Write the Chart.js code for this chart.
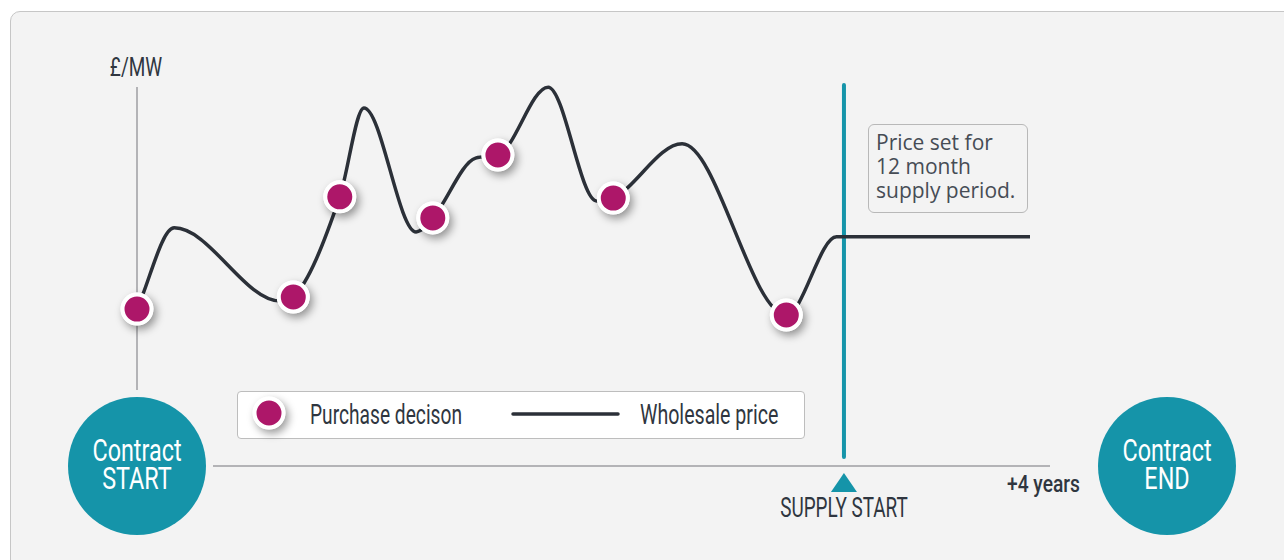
<!DOCTYPE html>
<html>
<head>
<meta charset="utf-8">
<script src="https://cdn.jsdelivr.net/npm/chart.js@4"></script>
<style>
  html, body { margin: 0; padding: 0; background: #fff; width: 1284px; height: 560px; overflow: hidden; }
  .panel {
    position: absolute; left: 10px; top: 11px; width: 1300px; height: 600px;
    background: #f3f3f3; border: 1.5px solid #c6c6c6; border-radius: 10px;
  }
  #chart { position: absolute; left: 0; top: 0; z-index: 2; }
  .cond { font-family: Roboto, sans-serif; color: #2f3640; position: absolute; white-space: nowrap; }
  .mid { width: 300px; text-align: center; transform-origin: 150px 0; }
  .circle {
    position: absolute; width: 138px; height: 138px; border-radius: 50%;
    background: #1594a9;
  }
  .circle span {
    position: absolute; left: -81px; top: 39px; width: 300px; text-align: center;
    font-family: Roboto, sans-serif; color: #fff; font-size: 32px; line-height: 28px;
    transform: scaleX(0.73); transform-origin: 150px 0;
  }
  .legend {
    position: absolute; left: 237px; top: 391px; width: 568px; height: 48px;
    background: #fff; border: 1px solid #bdbdbd; border-radius: 4px; box-sizing: border-box;
  }
  .note {
    position: absolute; left: 868px; top: 124px; width: 160px; height: 89px; box-sizing: border-box;
    border: 1.5px solid #b8b8b8; border-radius: 6px; padding: 5px 0 0 7px;
    font-family: 'Open Sans', sans-serif; font-size: 21px; line-height: 24px; color: #464c55;
  }
</style>
</head>
<body>
<div class="panel"></div>
<canvas id="chart" width="1284" height="560"></canvas>

<div class="cond mid" style="left:-14px; top:54px; font-size:26px; line-height:26px; transform:scaleX(0.73);">£/MW</div>
<div class="cond mid" style="left:694px; top:495px; font-size:27px; line-height:27px; transform:scaleX(0.70);">SUPPLY START</div>
<div class="cond" style="left:1007px; top:472px; font-size:24px; line-height:24px; font-weight:500; transform:scaleX(0.8); transform-origin:0 0;">+4 years</div>
<div class="circle" style="left:68px; top:397px;"><span>Contract<br>START</span></div>
<div class="circle" style="left:1098px; top:397px;"><span>Contract<br>END</span></div>

<div class="legend">
  <div class="cond" style="left:72px; top:9px; font-size:28px; line-height:28px; transform:scaleX(0.685); transform-origin:0 0;">Purchase decison</div>
  <div class="cond" style="left:402px; top:9px; font-size:28px; line-height:28px; transform:scaleX(0.70); transform-origin:0 0;">Wholesale price</div>
</div>
<div class="note">Price set for<br>12 month<br>supply period.</div>

<script>
// months from contract start (0 .. 48), price index (0 .. 100)
const priceMonths = [0, 2.0, 7.7, 8.4, 10.9, 12.2, 15.0, 15.9, 18.2, 19.4, 22.1, 24.7, 25.6, 29.3, 34.9, 37.6, 48];
const priceValues = [26.1, 52.3, 28.7, 30.0, 62.3, 91.0, 51.0, 55.5, 74.8, 75.8, 97.7, 61.0, 61.9, 79.4, 24.2, 49.4, 49.4];

const purchaseMonths = [0, 8.4, 10.9, 15.9, 19.4, 25.6, 34.9];
const purchaseValues = [26.1, 30.0, 62.3, 55.5, 75.8, 61.9, 24.2];

const contractMonths = 48;
const supplyStartMonth = 38;

const TEAL = '#1594a9';
const LINE = '#2b3038';
const DOT = '#ad1769';

// legend swatches drawn on the same canvas
const legendDot = { x: 269, y: 413 };
const legendLine = { x1: 513, x2: 618, y: 414 };

function dotShadow(ctx) {
    ctx.shadowColor = 'rgba(0,0,0,0.4)';
    ctx.shadowBlur = 8;
    ctx.shadowOffsetX = 3;
    ctx.shadowOffsetY = 4;
}

function shadowDisc(ctx, x, y, r) {
    ctx.save();
    dotShadow(ctx);
    ctx.fillStyle = '#fff';
    ctx.beginPath();
    ctx.arc(x, y, r, 0, Math.PI * 2);
    ctx.fill();
    ctx.restore();
}

const decorPlugin = {
    id: 'decor',
    beforeDatasetsDraw(chart) {
        const { ctx, scales: { x } } = chart;
        ctx.save();
        ctx.lineCap = 'butt';
        // y axis line
        ctx.strokeStyle = '#b3b3b6';
        ctx.lineWidth = 2;
        ctx.beginPath();
        ctx.moveTo(x.getPixelForValue(0), 87);
        ctx.lineTo(x.getPixelForValue(0), 390);
        ctx.stroke();
        // time axis line
        ctx.beginPath();
        ctx.moveTo(213, 466);
        ctx.lineTo(1050, 466);
        ctx.stroke();
        // supply start marker
        const sx = x.getPixelForValue(supplyStartMonth);
        ctx.strokeStyle = TEAL;
        ctx.lineWidth = 4;
        ctx.lineCap = 'round';
        ctx.beginPath();
        ctx.moveTo(sx, 85);
        ctx.lineTo(sx, 457);
        ctx.stroke();
        ctx.fillStyle = TEAL;
        ctx.beginPath();
        ctx.moveTo(sx, 473);
        ctx.lineTo(sx + 13, 492);
        ctx.lineTo(sx - 13, 492);
        ctx.closePath();
        ctx.fill();
        // legend swatches
        ctx.strokeStyle = LINE;
        ctx.lineWidth = 3.5;
        ctx.beginPath();
        ctx.moveTo(legendLine.x1, legendLine.y);
        ctx.lineTo(legendLine.x2, legendLine.y);
        ctx.stroke();
        shadowDisc(ctx, legendDot.x, legendDot.y, 16.5);
        ctx.beginPath();
        ctx.arc(legendDot.x, legendDot.y, 14.5, 0, Math.PI * 2);
        ctx.fillStyle = DOT;
        ctx.fill();
        ctx.strokeStyle = '#fff';
        ctx.lineWidth = 4;
        ctx.stroke();
        ctx.restore();
    },
    beforeDatasetDraw(chart, args) {
        if (args.index !== 0) return;
        // soft drop shadow under each purchase point
        args.meta.data.forEach(pt => shadowDisc(chart.ctx, pt.x, pt.y, 16.5));
    }
};

new Chart(document.getElementById('chart'), {
    type: 'line',
    data: {
        datasets: [
            {
                label: 'Purchase decison',
                data: purchaseMonths.map((m, i) => ({ x: m, y: purchaseValues[i] })),
                showLine: false,
                pointRadius: 14.5,
                pointBorderWidth: 4,
                pointBackgroundColor: DOT,
                pointBorderColor: '#fff',
                clip: false,
            },
            {
                label: 'Wholesale price',
                data: priceMonths.map((m, i) => ({ x: m, y: priceValues[i] })),
                borderColor: LINE,
                borderWidth: 3.5,
                pointRadius: 0,
                cubicInterpolationMode: 'monotone',
                clip: false,
            }
        ]
    },
    options: {
        responsive: false,
        animation: false,
        layout: { padding: { left: 137, right: 254, top: 80, bottom: 170 } },
        plugins: { legend: { display: false }, tooltip: { enabled: false } },
        scales: {
            x: { type: 'linear', display: false, min: 0, max: contractMonths },
            y: { display: false, min: 0, max: 100 },
        }
    },
    plugins: [decorPlugin]
});
</script>
</body>
</html>
